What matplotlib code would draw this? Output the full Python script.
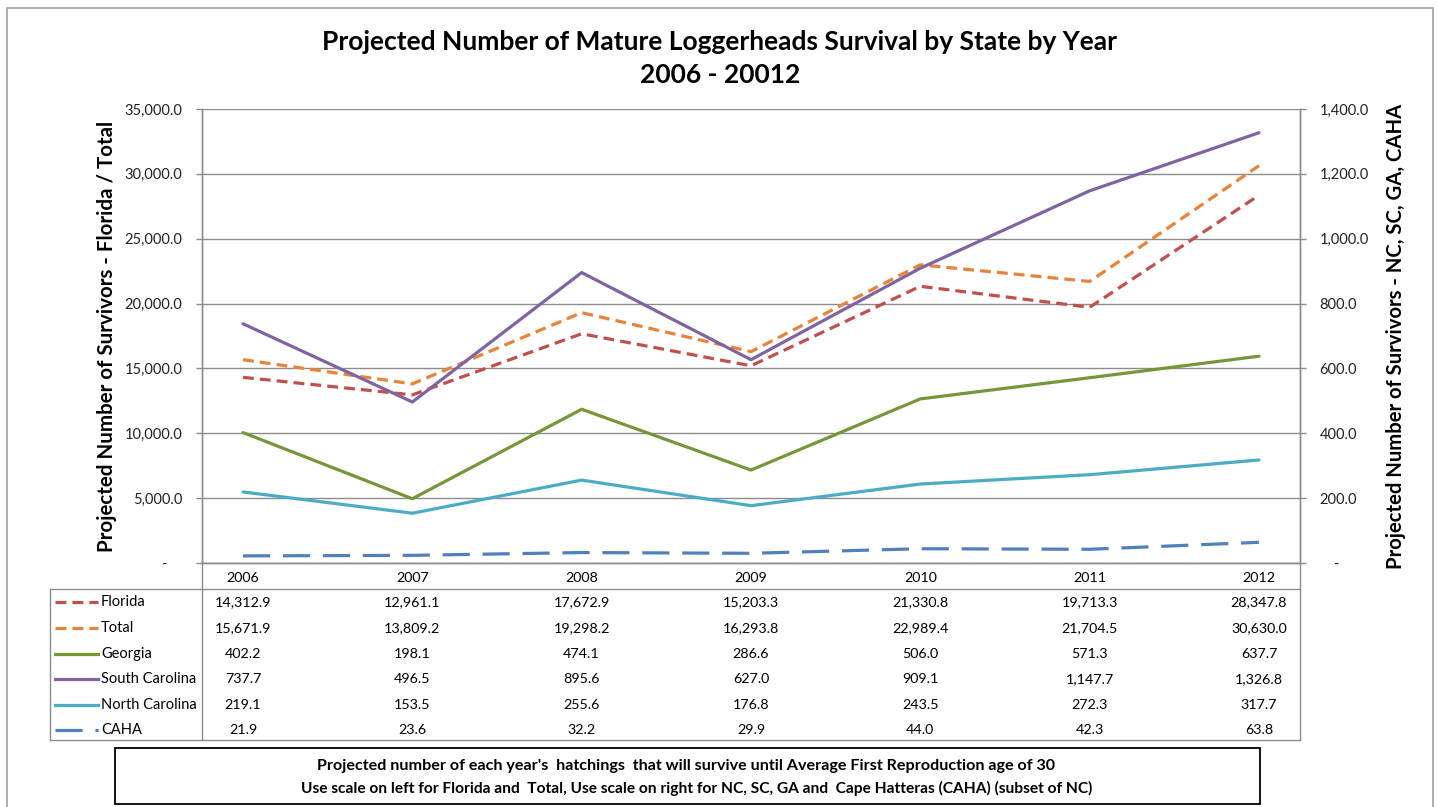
import matplotlib.pyplot as plt
import matplotlib.transforms as mtransforms
from matplotlib.lines import Line2D
from matplotlib.patches import Rectangle
from matplotlib.ticker import FuncFormatter, MultipleLocator
import numpy as np

plt.rcParams['font.family'] = ['Lato', 'DejaVu Sans']

# ------- data -------------------------------------------
years = ['2006', '2007', '2008', '2009', '2010', '2011', '2012']
florida = [14312.9, 12961.1, 17672.9, 15203.3, 21330.8, 19713.3, 28347.8]
total = [15671.9, 13809.2, 19298.2, 16293.8, 22989.4, 21704.5, 30630.0]
georgia = [402.2, 198.1, 474.1, 286.6, 506.0, 571.3, 637.7]
south_carolina = [737.7, 496.5, 895.6, 627.0, 909.1, 1147.7, 1326.8]
north_carolina = [219.1, 153.5, 255.6, 176.8, 243.5, 272.3, 317.7]
caha = [21.9, 23.6, 32.2, 29.9, 44.0, 42.3, 63.8]

W, H = 1438, 807
fig = plt.figure(figsize=(W / 100, H / 100), dpi=100)

def fx(px):
    return px / W

def fy(py):
    return 1 - py / H

left, right, top, bottom = 202, 1300, 109, 563
ax = fig.add_axes([fx(left), fy(bottom), fx(right - left), (bottom - top) / H])
ax2 = ax.twinx()

gray = '#8c8c8c'
lw = 2.3
short_dash = (0, (3.4, 1.9))
long_dash = (0, (8.5, 4.0))

# series: (label, values, color, style, axis)
series = [
    ('Florida', florida, '#c0504d', short_dash, ax),
    ('Total', total, '#e8833a', short_dash, ax),
    ('Georgia', georgia, '#77963a', '-', ax2),
    ('South Carolina', south_carolina, '#8064a2', '-', ax2),
    ('North Carolina', north_carolina, '#4bacc6', '-', ax2),
    ('CAHA', caha, '#4f81bd', long_dash, ax2),
]

x = np.arange(len(years))
for name, vals, col, ls, a in series:
    a.plot(x, vals, color=col, linestyle=ls, linewidth=lw,
           solid_capstyle='round', dash_capstyle='butt')

pad_x = 41 / 169.3
ax.set_xlim(-pad_x, len(years) - 1 + pad_x)
ax.set_ylim(0, 35000)
ax2.set_ylim(0, 1400)
ax.yaxis.set_major_locator(MultipleLocator(5000))
ax2.yaxis.set_major_locator(MultipleLocator(200))

ax.yaxis.set_major_formatter(FuncFormatter(lambda v, p: '-    ' if v == 0 else f'{v:,.1f}'))
ax2.yaxis.set_major_formatter(FuncFormatter(lambda v, p: '    -' if v == 0 else f'{v:,.1f}'))
ax.set_xticks([])
ax.grid(axis='y', color=gray, linewidth=1.0)
ax.set_axisbelow(True)

for a in (ax, ax2):
    for s in a.spines.values():
        s.set_color(gray)
        s.set_linewidth(1.0)
    a.spines['top'].set_visible(False)
    a.tick_params(axis='y', length=4, width=1.0, color=gray, pad=10, labelsize=10.5,
                  labelcolor='#222222')

ax.set_ylabel('Projected Number of Survivors - Florida / Total', fontsize=14.8,
              fontweight='bold')
ax.yaxis.set_label_coords(-0.077, 0.5)
ax2.set_ylabel('Projected Number of Survivors - NC, SC, GA, CAHA', fontsize=14.6,
               fontweight='bold', rotation=90)
ax2.yaxis.set_label_coords(1.078, 0.5)

fig.text(fx(720), fy(42), 'Projected Number of Mature Loggerheads Survival by State by Year',
         ha='center', va='center', fontsize=19, fontweight='bold')
fig.text(fx(720), fy(75), '2006 - 20012', ha='center', va='center', fontsize=19,
         fontweight='bold')

# ------- data table under the plot ------------------------
trans = mtransforms.blended_transform_factory(ax.transData, fig.transFigure)
for i, yr in enumerate(years):
    fig.text(i, fy(578), yr, transform=trans, ha='center', va='center', fontsize=10.3)

row_y = [602, 628, 654, 679, 705, 730]
for (name, vals, col, ls, a), ry in zip(series, row_y):
    fig.add_artist(Line2D([fx(55), fx(98)], [fy(ry), fy(ry)], color=col, linestyle=ls,
                          linewidth=lw, transform=fig.transFigure))
    fig.text(fx(101), fy(ry), name, ha='left', va='center', fontsize=10.5)
    for i, v in enumerate(vals):
        fig.text(i, fy(ry), f'{v:,.1f}', transform=trans, ha='center', va='center',
                 fontsize=10.3)

def fline(x0, y0, x1, y1, color=gray, width=1.0):
    fig.add_artist(Line2D([fx(x0), fx(x1)], [fy(y0), fy(y1)], color=color,
                          linewidth=width, transform=fig.transFigure))

fline(50, 589, right, 589)
fline(50, 740, right, 740)
fline(50, 589, 50, 740)
fline(left, bottom, left, 740)
fline(right, bottom, right, 740)

# note box
fig.add_artist(Rectangle((fx(115), fy(804)), fx(1260 - 115), (804 - 748) / H,
                         fill=False, edgecolor='black', linewidth=1.3,
                         transform=fig.transFigure))
fig.text(fx(686), fy(766), "Projected number of each year's  hatchings  that will survive until "
         "Average First Reproduction age of 30", ha='center', va='center', fontsize=11.6,
         fontweight='bold')
fig.text(fx(697), fy(788), 'Use scale on left for Florida and  Total, Use scale on right for NC, SC, '
         'GA and  Cape Hatteras (CAHA) (subset of NC)', ha='center', va='center',
         fontsize=11.2, fontweight='bold')

# outer chart border
fig.add_artist(Rectangle((fx(7), -0.05), fx(1433 - 7), fy(8) + 0.05, fill=False,
                         edgecolor='#a0a0a0', linewidth=1.2, transform=fig.transFigure))

plt.savefig('out.png', dpi=100)
